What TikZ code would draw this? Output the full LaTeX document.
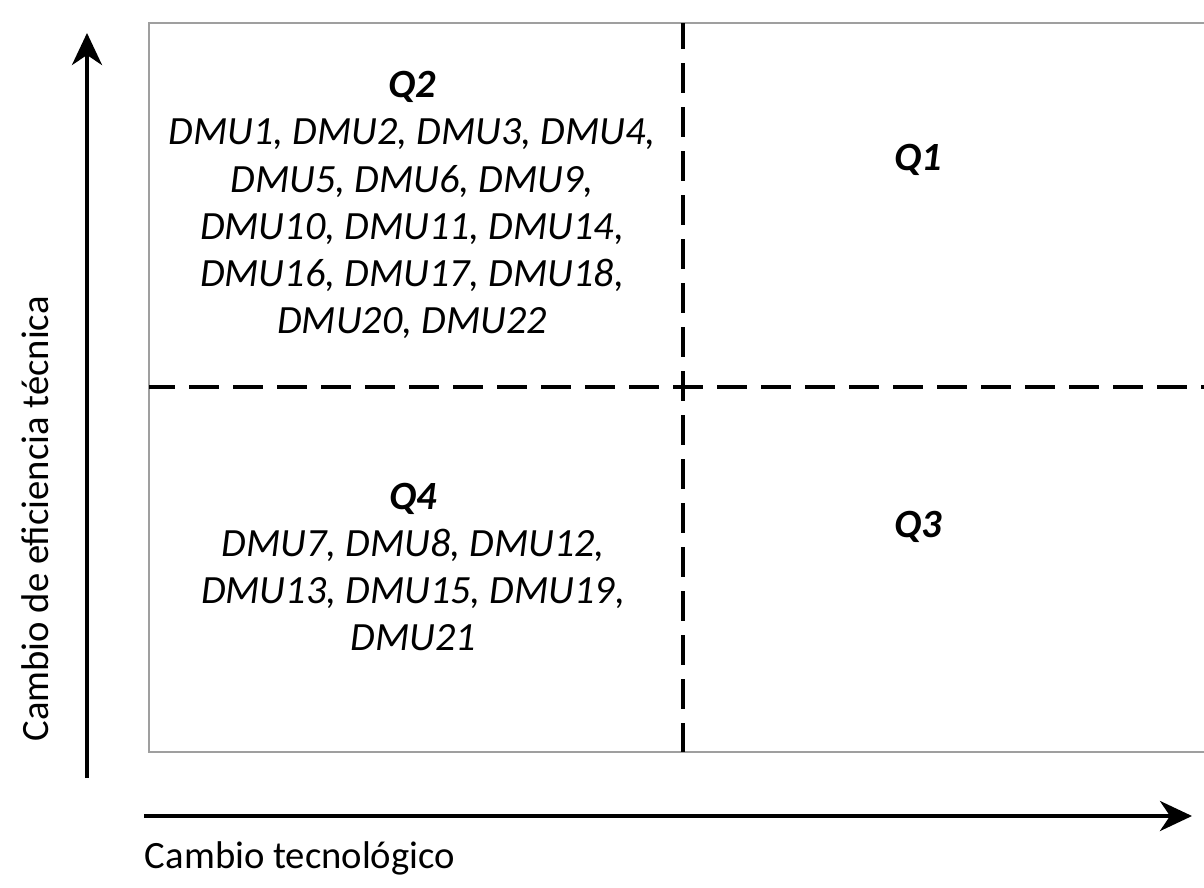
\documentclass[tikz,border=0pt]{standalone}
\usepackage{fontspec}
\setmainfont{Carlito}
\usetikzlibrary{arrows.meta}

\begin{document}
\begin{tikzpicture}[x=0.025cm, y=-0.025cm,
		axis/.style={line width=1mm, arrows={-Stealth[length=8mm, width=7.5mm, inset=2.5mm]}},
		frame/.style={line width=0.7mm, gray!75},
		divider/.style={line width=0.9mm, dash pattern=on 7.5mm off 3.5mm, dash phase=1mm},
		cell/.style={font=\fontsize{28.5}{33.5}\selectfont\itshape, align=center},
		axislabel/.style={font=\fontsize{27.5}{33.5}\selectfont}]
		\useasboundingbox (0,0) rectangle (1204,888);
		% frame, open on the right
		\coordinate (tr) at (1204,23);
		\coordinate (tl) at (149,23);
		\coordinate (bl) at (149,752);
		\coordinate (br) at (1204,752);
		\draw[frame] (tr) -- (tl) -- (bl) -- (br);
		% quadrant dividers
		\coordinate (vtop) at (683,23);
		\coordinate (vbot) at (683,752);
		\coordinate (hleft) at (149,387);
		\coordinate (hright) at (1204,387);
		\draw[divider] (vtop) -- (vbot);
		\draw[divider] (hleft) -- (hright);
		% axes
		\coordinate (yfrom) at (87,778);
		\coordinate (yto) at (87,33);
		\coordinate (xfrom) at (144,816);
		\coordinate (xto) at (1192,816);
		\draw[axis] (yfrom) -- (yto);
		\draw[axis] (xfrom) -- (xto);
		\node[axislabel, rotate=90] (ylabel) at (35,519) {Cambio de eficiencia técnica};
		\node[axislabel, anchor=west] (xlabel) at (140,858) {Cambio tecnológico};
		% quadrants
		\node[cell] (q2) at (412,205) {\textbf{Q2}\\DMU1, DMU2, DMU3, DMU4,\\DMU5, DMU6, DMU9,\\DMU10, DMU11, DMU14,\\DMU16, DMU17, DMU18,\\DMU20, DMU22};
		\node[cell] (q1) at (918,160) {\textbf{Q1}};
		\node[cell] (q4) at (413,567) {\textbf{Q4}\\DMU7, DMU8, DMU12,\\DMU13, DMU15, DMU19,\\DMU21};
		\node[cell] (q3) at (918,527) {\textbf{Q3}};
	\end{tikzpicture}
\end{document}
